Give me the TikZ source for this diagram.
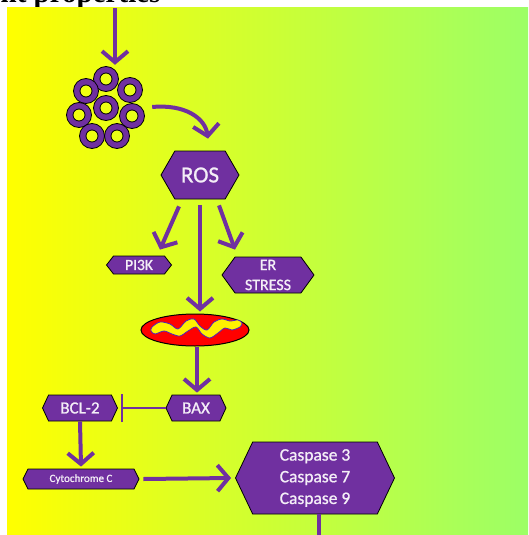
\documentclass[tikz,border=0pt]{standalone}
\usepackage{fontspec}
\newfontfamily\labelfont[FakeBold=1]{Carlito}
\newfontfamily\headfont{Liberation Serif}
\usetikzlibrary{calc, arrows.meta, shapes.symbols, shapes.geometric}
\definecolor{vio}{HTML}{7030A0}
\definecolor{lime}{HTML}{9CFF66}
\tikzset{
  hexbox/.style={shape=signal, signal to=west and east, fill=vio, draw=black,
    line width=0.8pt, text=white!92!vio, inner sep=0pt, align=center},
  flow/.style={vio, line width=4pt, -{Straight Barb[length=11pt,width=26pt]}},
  ring/.style={fill=vio, draw=black, line width=0.8pt, even odd rule}
}

\begin{document}
\begin{tikzpicture}[x=1pt,y=-1pt]
    \clip (0,0) rectangle (528,535);
    \fill[white] (0,0) rectangle (528,535);
    \node[anchor=base east, font=\headfont\bfseries\fontsize{29}{31}\selectfont] (head) at (164,3) {ent properties};
    \fill[left color=yellow, right color=lime] (7,8) rectangle (528,535);

    % ring cluster
    \foreach \x/\y in {106/79, 86/91, 130/90, 79/115, 106/108, 132/116, 92/136, 117/136}
        \draw[ring] (\x,\y) circle (12.5pt) (\x,\y) circle (6pt);
    \node[minimum width=70pt, minimum height=86pt] (rings) at (106,108) {};
    \coordinate (in) at (115,8);

    \node[hexbox, signal pointer angle=120, minimum width=78pt, minimum height=48pt,
        font=\labelfont\fontsize{23}{24}\selectfont] (ros) at (200,175) {ROS};
    \node[hexbox, signal pointer angle=104, minimum width=65pt, minimum height=18pt,
        font=\labelfont\fontsize{15.5}{17}\selectfont] (pitk) at (139,265) {PI3K};
    \node[hexbox, signal pointer angle=108, minimum width=92pt, minimum height=36pt,
        font=\labelfont\fontsize{16}{20}\selectfont] (erstress) at (268,275) {ER\\STRESS};
    \node[ellipse, fill=red, draw=black, line width=1pt, minimum width=108pt,
        minimum height=32pt, inner sep=0pt] (mito) at (195,330) {};
    % cristae
    \draw[fill=yellow, draw=vio!70!blue, line width=0.8pt] plot[smooth cycle] coordinates {
        (152,327) (160,322) (170,324) (178,329) (186,321) (194,319) (200,326) (207,330)
        (214,322) (222,319) (230,321) (238,320) (242,323) (240,327) (232,330) (225,328)
        (218,333) (210,338) (202,334) (196,327) (188,331) (180,336) (172,334) (164,331)
        (155,334) (151,331)};
    \node[hexbox, signal pointer angle=130, minimum width=60pt, minimum height=26pt,
        font=\labelfont\fontsize{17}{18}\selectfont] (bax) at (196,408) {BAX};
    \node[hexbox, signal pointer angle=130, minimum width=75pt, minimum height=26pt,
        font=\labelfont\fontsize{17}{18}\selectfont] (bcltwo) at (80,408) {BCL-2};
    \node[hexbox, signal pointer angle=127, minimum width=116pt, minimum height=20pt,
        font=\labelfont\fontsize{11}{12}\selectfont] (cytc) at (81,479) {Cytochrome C};
    \node[hexbox, signal pointer angle=129, minimum width=159pt, minimum height=72pt,
        font=\labelfont\fontsize{17.5}{21.7}\selectfont] (casp) at (315,478) {Caspase 3\\Caspase 7\\Caspase 9};
    \coordinate (out) at (319,545);

    \draw[flow] (in) -- (in |- rings.north);
    \draw[flow] ([xshift=11pt,yshift=1pt]rings.east) .. controls (185,104) and (205,118) .. ([xshift=8pt,yshift=12pt]ros.north);
    \draw[flow] ([xshift=-21pt,yshift=-7pt]ros.south) -- ([xshift=21pt,yshift=6pt]pitk.north);
    \draw[flow] ([yshift=-6pt]ros.south) -- ([xshift=5pt,yshift=2pt]mito.north);
    \draw[flow] ([xshift=19pt,yshift=-6pt]ros.south) -- ([xshift=-33pt,yshift=7pt]erstress.north);
    \draw[flow] ([xshift=2pt]mito.south) -- ([xshift=1pt,yshift=2pt]bax.north);
    \draw[vio, line width=2pt, -{Bar[width=28pt]}, shorten >=3pt] (bax.west) -- (bcltwo.east);
    \draw[flow] (bcltwo.south) -- ([yshift=2pt]cytc.north);
    \draw[flow] ([xshift=4pt]cytc.east) -- ([xshift=-4pt]casp.west);
    \draw[vio, line width=4pt] ([xshift=4pt]casp.south) -- (out);
\end{tikzpicture}
\end{document}
